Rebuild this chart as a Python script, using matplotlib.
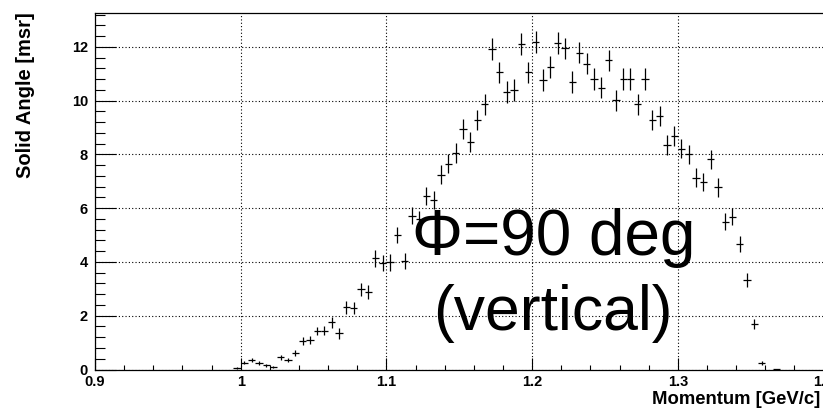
import matplotlib
matplotlib.use("Agg")
import matplotlib.pyplot as plt
from matplotlib.ticker import MultipleLocator

# ---- data ----
momentum = [0.9975, 1.0025, 1.0075, 1.0125, 1.0175, 1.0225, 1.0275, 1.0325, 1.0375,
            1.0425, 1.0475, 1.0525, 1.0575, 1.0625, 1.0675, 1.0725, 1.0775, 1.0825,
            1.0875, 1.0925, 1.0975, 1.1025, 1.1075, 1.1125, 1.1175, 1.1225, 1.1275,
            1.1325, 1.1375, 1.1425, 1.1475, 1.1525, 1.1575, 1.1625, 1.1675, 1.1725,
            1.1775, 1.1825, 1.1875, 1.1925, 1.1975, 1.2025, 1.2075, 1.2125, 1.2175,
            1.2225, 1.2275, 1.2325, 1.2375, 1.2425, 1.2475, 1.2525, 1.2575, 1.2625,
            1.2675, 1.2725, 1.2775, 1.2825, 1.2875, 1.2925, 1.2975, 1.3025, 1.3075,
            1.3125, 1.3175, 1.3225, 1.3275, 1.3325, 1.3375, 1.3425, 1.3475, 1.3525,
            1.3575, 1.3675]
solid_angle = [0.06, 0.26, 0.34, 0.25, 0.16, 0.09, 0.45, 0.35, 0.62,
               1.05, 1.09, 1.43, 1.45, 1.76, 1.35, 2.31, 2.29, 2.98,
               2.88, 4.13, 3.95, 3.98, 5.00, 4.03, 5.72, 5.58, 6.45,
               6.30, 7.25, 7.65, 8.06, 8.94, 8.45, 9.28, 9.86, 11.92,
               11.05, 10.33, 10.39, 12.10, 11.05, 12.19, 10.76, 11.25, 12.14,
               11.94, 10.69, 11.79, 11.38, 10.80, 10.48, 11.50, 10.02, 10.80,
               10.80, 9.87, 10.80, 9.28, 9.42, 8.36, 8.68, 8.22, 8.00,
               7.14, 6.98, 7.82, 6.77, 5.50, 5.68, 4.67, 3.33, 1.69,
               0.24, 0.02]
solid_angle_err = [0.03, 0.07, 0.07, 0.07, 0.06, 0.05, 0.09, 0.08, 0.11,
                   0.15, 0.15, 0.16, 0.17, 0.20, 0.20, 0.23, 0.23, 0.24,
                   0.25, 0.30, 0.30, 0.30, 0.30, 0.30, 0.31, 0.31, 0.33,
                   0.33, 0.35, 0.35, 0.37, 0.37, 0.37, 0.38, 0.38, 0.40,
                   0.40, 0.40, 0.40, 0.41, 0.40, 0.41, 0.40, 0.40, 0.41,
                   0.40, 0.40, 0.40, 0.40, 0.40, 0.40, 0.40, 0.39, 0.40,
                   0.40, 0.39, 0.40, 0.38, 0.38, 0.37, 0.37, 0.36, 0.36,
                   0.34, 0.34, 0.35, 0.34, 0.32, 0.32, 0.30, 0.27, 0.20,
                   0.07, 0.01]
bin_half_width = 0.0025

xlabel = "Momentum [GeV/c]"
ylabel = "Solid Angle [msr]"
annotation = ["\u03a6=90 deg", "(vertical)"]

FONT = ["Liberation Sans", "DejaVu Sans"]
plt.rcParams["font.family"] = FONT

W, H = 823, 413
fig = plt.figure(figsize=(W / 100, H / 100), dpi=100)
left, right_px, top_px, bottom_px = 95, 823.5, 13, 369.5
ax = fig.add_axes([left / W, 1 - bottom_px / H, (right_px - left) / W, (bottom_px - top_px) / H])

ax.errorbar(momentum, solid_angle, yerr=solid_angle_err, xerr=bin_half_width,
            fmt="none", ecolor="black", elinewidth=0.9, capsize=0)

ax.set_xlim(0.9, 1.4)
ax.set_ylim(0, 13.26)

ax.xaxis.set_major_locator(MultipleLocator(0.1))
ax.xaxis.set_minor_locator(MultipleLocator(0.02))
ax.yaxis.set_major_locator(MultipleLocator(2))
ax.yaxis.set_minor_locator(MultipleLocator(0.4))
ax.xaxis.set_major_formatter(plt.FuncFormatter(lambda v, p: f"{v:g}"))

ax.tick_params(axis="x", which="major", direction="in", length=8.4, width=0.8, pad=4)
ax.tick_params(axis="x", which="minor", direction="in", length=3.6, width=0.8)
ax.tick_params(axis="y", which="major", direction="in", length=15, width=0.8, pad=5)
ax.tick_params(axis="y", which="minor", direction="in", length=7, width=0.8)
ax.tick_params(top=False, right=False, which="both")
for lab in ax.get_xticklabels() + ax.get_yticklabels():
    lab.set_fontweight("bold")
    lab.set_fontsize(10.5)

ax.grid(True, which="major", color="black", linestyle=(0, (1, 2)), linewidth=0.8)
for s in ax.spines.values():
    s.set_linewidth(0.9)

fig.text(820 / W, 1 - 400 / H, xlabel, ha="right", va="center",
         fontsize=13.3, fontweight="bold")
fig.text(25.5 / W, 1 - 12 / H, ylabel, ha="center", va="top", rotation=90,
         fontsize=14.5, fontweight="bold")

ax.text(1.2145, 4.26, annotation[0], ha="center", va="baseline", fontsize=46)
ax.text(1.2145, 1.47, annotation[1], ha="center", va="baseline", fontsize=45)

fig.savefig("out.png", dpi=100)
